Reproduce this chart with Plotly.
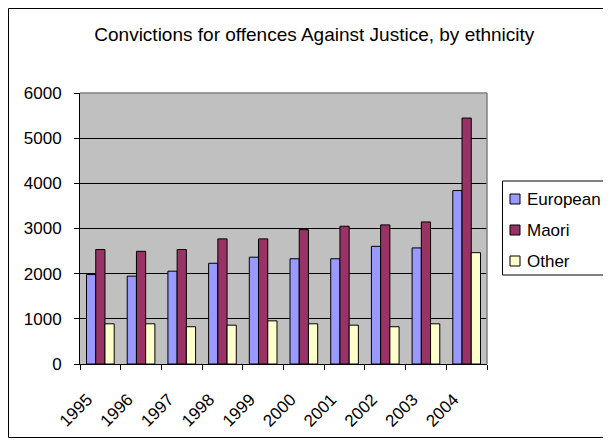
import plotly.graph_objects as go

# ── DATA ──────────────────────────────────────────────────────────────────────

YEARS = ["1995", "1996", "1997", "1998", "1999", "2000", "2001", "2002", "2003", "2004"]

EUROPEAN = [1980, 1945, 2055, 2230, 2365, 2330, 2330, 2605, 2570, 3840]
MAORI    = [2535, 2495, 2535, 2770, 2770, 2975, 3050, 3080, 3145, 5445]
OTHER    = [890, 890, 825, 860, 955, 890, 860, 825, 890, 2465]

SERIES = [
    ("European", EUROPEAN, "#9999FF"),
    ("Maori",    MAORI,    "#993366"),
    ("Other",    OTHER,    "#FFFFCC"),
]

FONT = "Liberation Sans, Arial, sans-serif"

# ── LAYOUT (pixels) ───────────────────────────────────────────────────────────

# the page has an 8px body margin; keep the figure inside the window
W, H = 603, 430
ML, MR, MT, MB = 72, 124, 85, 74
PW = W - ML - MR
PH = H - MT - MB


def px(x):
    """figure pixel x -> paper x"""
    return (x - ML) / PW


def py(y):
    """figure pixel y (from top) -> paper y"""
    return (H - MB - y) / PH


# ── FIGURE ────────────────────────────────────────────────────────────────────

fig = go.Figure()

for name, vals, color in SERIES:
    fig.add_trace(go.Bar(
        x=YEARS, y=vals, name=name, showlegend=False,
        marker=dict(color=color, line=dict(color="black", width=1)),
    ))

# outer chart frame
fig.add_shape(type="rect", xref="paper", yref="paper",
              x0=px(0.5), x1=px(W + 20), y0=py(H - 0.5), y1=py(0.5),
              line=dict(color="black", width=1), layer="below")
# grey plot-area border (top and right)
fig.add_shape(type="line", xref="paper", yref="paper",
              x0=0, x1=1, y0=1, y1=1, line=dict(color="#808080", width=1.5))
fig.add_shape(type="line", xref="paper", yref="paper",
              x0=1, x1=1, y0=0, y1=1, line=dict(color="#808080", width=1.5))

# legend box drawn by hand (Excel-style tight spacing)
fig.add_shape(type="rect", xref="paper", yref="paper",
              x0=px(494.5), x1=px(W + 20), y0=py(267), y1=py(173),
              line=dict(color="black", width=1), fillcolor="white")
for i, (name, vals, color) in enumerate(SERIES):
    yc = 191 + i * 31
    fig.add_shape(type="rect", xref="paper", yref="paper",
                  x0=px(502), x1=px(512), y0=py(yc + 5), y1=py(yc - 5),
                  line=dict(color="black", width=1), fillcolor=color)
    fig.add_annotation(xref="paper", yref="paper", x=px(517), y=py(yc),
                       xanchor="left", yanchor="middle", showarrow=False,
                       text=name, font=dict(family=FONT, size=17, color="black"))

fig.update_layout(
    width=W, height=H,
    margin=dict(l=ML, r=MR, t=MT, b=MB, autoexpand=False),
    paper_bgcolor="white",
    plot_bgcolor="#C0C0C0",
    font=dict(family=FONT, size=17, color="black"),
    title=dict(
        text="Convictions for offences Against Justice, by ethnicity",
        x=0.508, xanchor="center", y=1 - 26 / H, yanchor="middle", yref="container",
        font=dict(family=FONT, size=19, color="black"),
    ),
    showlegend=False,
    barmode="group",
    bargap=0.32,
    bargroupgap=0,
    xaxis=dict(
        type="category",
        tickangle=-45,
        tickson="boundaries",
        ticks="outside", ticklen=5, tickcolor="black",
        ticklabelstandoff=18, ticklabelshift=-13,
        showline=True, linecolor="black", linewidth=1,
        showgrid=False,
        tickfont=dict(size=17),
    ),
    yaxis=dict(
        range=[0, 6000], dtick=1000,
        ticks="outside", ticklen=5, tickcolor="black",
        ticklabelstandoff=9,
        showline=True, linecolor="black", linewidth=1,
        showgrid=True, gridcolor="black", gridwidth=1,
        zeroline=False,
        tickfont=dict(size=17),
    ),
)

fig.write_html("out.html")
